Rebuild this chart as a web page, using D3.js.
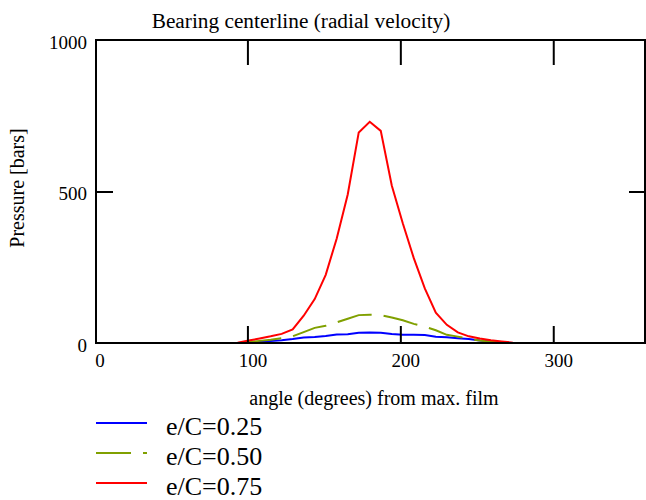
<!DOCTYPE html>
<html><head><meta charset="utf-8">
<script src="https://cdn.jsdelivr.net/npm/d3@7"></script>
<style>
body{margin:0;background:#fff;}
svg{display:block;font-family:"Liberation Serif","Times New Roman",serif;}
text{font-family:"Liberation Serif","Times New Roman",serif;}
</style></head><body>
<svg id="c" width="646" height="500"></svg>
<script>
const angles = [7.2,14.4,21.6,28.8,36,43.2,50.4,57.6,64.8,72,79.2,86.4,93.6,100.8,108,115.2,122.4,129.6,136.8,144,151.2,158.4,165.6,172.8,180,187.2,194.4,201.6,208.8,216,223.2,230.4,237.6,244.8,252,259.2,266.4,273.6,280.8,288,295.2,302.4,309.6,316.8,324,331.2,338.4,345.6,352.8,360];
const p025 = [0,0,0,0,0,0,0,0,0,0,0,0,0,2,4,7,9,13,18,20,23,28,29,34,35,34,30,27,27,26,21,19,16,13,8,5,2,0,0,0,0,0,0,0,0,0,0,0,0,0];
const p050 = [0,0,0,0,0,0,0,0,0,0,0,0,0,3,7,11,16,22,36,50,57,68,80,92,93,92,84,75,63,54,42,27,21,14,8,4,2,0,0,0,0,0,0,0,0,0,0,0,0,0];
const p075 = [0,0,0,0,0,0,0,0,0,0,0,0,1,8,15,22,30,45,90,145,225,345,490,695,730,700,520,395,280,180,100,60,35,22,15,9,5,1,0,0,0,0,0,0,0,0,0,0,0,0];
const seriesNames = ["e/C=0.25","e/C=0.50","e/C=0.75"];
const seriesColors = ["#0000ff","#80a000","#ff0000"];
const xTicks = [0,100,200,300];
const yTicks = [0,500,1000];

const svg = d3.select("#c");
const L=96, R=645, T=40, B=343;
const x = d3.scaleLinear().domain([0,360]).range([94.5,R]);
const y = d3.scaleLinear().domain([0,1000]).range([B,T]);

// title
svg.append("text").attr("x",301).attr("y",28).attr("text-anchor","middle")
  .attr("font-size",21.3).text("Bearing centerline (radial velocity)");

// series
const data = [p025,p050,p075];
const line = d3.line().x((d,i)=>x(angles[i])).y(d=>y(d));
data.forEach((s,k)=>{
  svg.append("path").attr("d",line(s)).attr("fill","none")
    .attr("stroke",seriesColors[k]).attr("stroke-width",2)
    .attr("stroke-dasharray",k===1?"35,12":null);
});

// frame
svg.append("rect").attr("x",L).attr("y",T).attr("width",R-L).attr("height",B-T)
  .attr("fill","none").attr("stroke","#000").attr("stroke-width",2);

function clean(g){g.select(".domain").remove();g.selectAll("line").attr("stroke","#000").attr("stroke-width",2);}
// inner ticks
svg.append("g").attr("transform",`translate(0,${B})`)
  .call(d3.axisTop(x).tickValues([100,200,300]).tickSize(17).tickFormat("")).call(clean);
svg.append("g").attr("transform",`translate(0,${T})`)
  .call(d3.axisBottom(x).tickValues([100,200,300]).tickSize(25).tickFormat("")).call(clean);
svg.append("g").attr("transform",`translate(${L},0)`)
  .call(d3.axisRight(y).tickValues([500]).tickSize(17).tickFormat("")).call(clean);
svg.append("g").attr("transform",`translate(${R},0)`)
  .call(d3.axisLeft(y).tickValues([500]).tickSize(16).tickFormat("")).call(clean);

// tick labels
const gx = svg.append("g").attr("transform",`translate(5,${B})`)
  .call(d3.axisBottom(x).tickValues(xTicks).tickSize(0).tickPadding(10.5).tickFormat(d3.format("d")));
gx.select(".domain").remove();
gx.selectAll("text").attr("font-size",19).attr("font-family","Liberation Serif").attr("fill","#000");
const gy = svg.append("g").attr("transform",`translate(${L-9},2)`)
  .call(d3.axisLeft(y).tickValues(yTicks).tickSize(0).tickPadding(0).tickFormat(d3.format("d")));
gy.select(".domain").remove();
gy.selectAll("text").attr("font-size",19).attr("font-family","Liberation Serif").attr("fill","#000");

// axis titles
svg.append("text").attr("x",374).attr("y",405).attr("text-anchor","middle")
  .attr("font-size",20).text("angle (degrees) from max. film");
svg.append("text").attr("transform","translate(24,188) rotate(-90)").attr("text-anchor","middle")
  .attr("font-size",20).text("Pressure [bars]");

// legend
const legY = [423,453,483];
seriesNames.forEach((n,k)=>{
  svg.append("line").attr("x1",96).attr("x2",147).attr("y1",legY[k]).attr("y2",legY[k])
    .attr("stroke",seriesColors[k]).attr("stroke-width",2)
    .attr("stroke-dasharray",k===1?"35,12":null);
  svg.append("text").attr("x",166).attr("y",legY[k]+12).attr("font-size",26).text(n);
});
</script></body></html>
